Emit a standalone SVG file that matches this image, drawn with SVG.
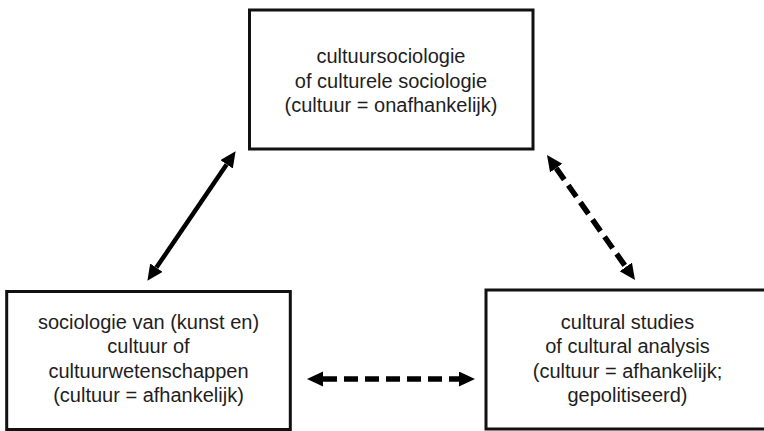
<svg xmlns="http://www.w3.org/2000/svg" width="764" height="431" viewBox="0 0 764 431">
  <style>
    .box { fill: #ffffff; stroke: #111111; stroke-width: 3; }
    .lbl { font-family: "Liberation Sans", Arial, sans-serif; font-size: 20px; fill: #1e1e1e; text-anchor: middle; }
    .solid { stroke: #000000; stroke-width: 4.5; fill: none; }
    .dash { stroke: #000000; stroke-width: 5.5; fill: none; stroke-dasharray: 14 7; }
  </style>
  <defs>
    <marker id="head" markerUnits="userSpaceOnUse" markerWidth="18" markerHeight="16" refX="0" refY="7.5" orient="auto-start-reverse" viewBox="0 0 18 16">
      <path d="M0,0 L16,7.5 L0,15 Z" fill="#000000"/>
    </marker>
  </defs>
  <rect width="764" height="431" fill="#ffffff"/>

  <g id="node-cultuursociologie">
    <rect class="box" x="249.5" y="10" width="283.5" height="139"/>
    <text class="lbl" x="391" y="63">cultuursociologie</text>
    <text class="lbl" x="391" y="87.5">of culturele sociologie</text>
    <text class="lbl" x="391" y="112">(cultuur = onafhankelijk)</text>
  </g>

  <g id="node-sociologie-van-cultuur">
    <rect class="box" x="6.7" y="291.5" width="283.6" height="138"/>
    <text class="lbl" x="148.5" y="328.5">sociologie van (kunst en)</text>
    <text class="lbl" x="148.5" y="353">cultuur of</text>
    <text class="lbl" x="148.5" y="377.5">cultuurwetenschappen</text>
    <text class="lbl" x="148.5" y="402">(cultuur = afhankelijk)</text>
  </g>

  <g id="node-cultural-studies">
    <rect class="box" x="486" y="290" width="283.6" height="139"/>
    <text class="lbl" x="627.5" y="328.5">cultural studies</text>
    <text class="lbl" x="627.5" y="353">of cultural analysis</text>
    <text class="lbl" x="627.5" y="377.5">(cultuur = afhankelijk;</text>
    <text class="lbl" x="627.5" y="402">gepolitiseerd)</text>
  </g>

  <g id="connectors">
    <line class="solid" x1="156.4" y1="267.6" x2="226.6" y2="164.4" marker-start="url(#head)" marker-end="url(#head)"/>
    <line class="dash" x1="556.2" y1="168.1" x2="625.8" y2="266.9" marker-start="url(#head)" marker-end="url(#head)"/>
    <line class="dash" x1="323" y1="379" x2="459" y2="379" marker-start="url(#head)" marker-end="url(#head)"/>
  </g>
</svg>
